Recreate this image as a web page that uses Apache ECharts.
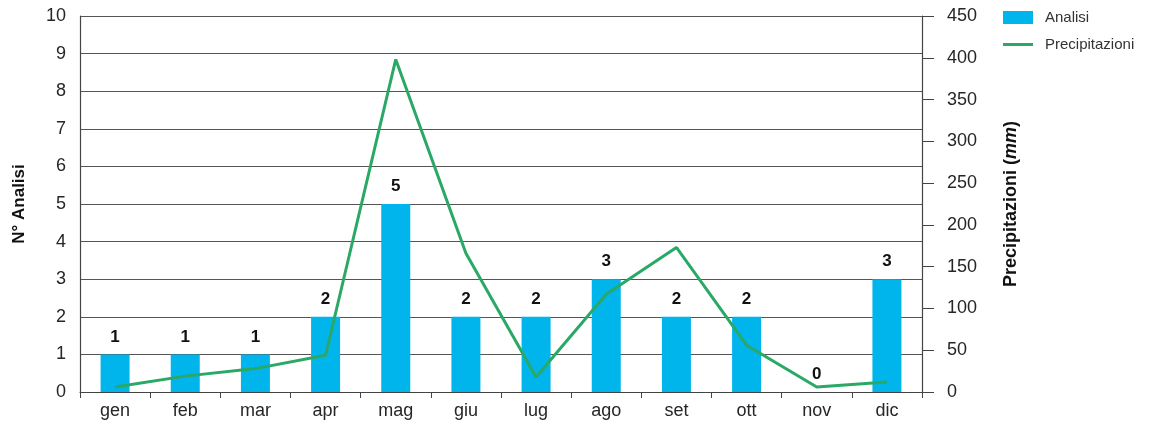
<!DOCTYPE html>
<html>
<head>
<meta charset="utf-8">
<script src="https://cdn.jsdelivr.net/npm/echarts@6/dist/echarts.min.js"></script>
<style>
  html, body { margin: 0; padding: 0; background: #fff; }
  #chart { width: 1152px; height: 427px; }
</style>
</head>
<body>
<div id="chart"></div>
<script>
// Monthly categories
const months = ['gen', 'feb', 'mar', 'apr', 'mag', 'giu', 'lug', 'ago', 'set', 'ott', 'nov', 'dic'];
// Number of analyses per month
const analisi = [1, 1, 1, 2, 5, 2, 2, 3, 2, 2, 0, 3];
// Monthly rainfall (mm)
const precipitazioni = [6, 19, 28, 44, 398, 166, 18, 117, 173, 56, 6, 12];

const FONT = 'Liberation Sans, Arial, Helvetica, sans-serif';
const TXT = '#262626';

const chart = echarts.init(document.getElementById('chart'));
chart.setOption({
  animation: false,
  textStyle: { fontFamily: FONT },
  grid: { left: 80, right: 230, top: 16, bottom: 35 },
  legend: {
    orient: 'vertical',
    left: 1003,
    top: 10,
    padding: 0,
    itemWidth: 30,
    itemHeight: 13,
    itemGap: 12,
    textStyle: { fontSize: 15, color: '#333', fontFamily: FONT, padding: [0, 0, 0, 7] },
    data: [
      { name: 'Analisi', icon: 'rect' },
      { name: 'Precipitazioni', icon: 'path://M0,0 L10,0 L10,1 L0,1 Z' }
    ]
  },
  xAxis: {
    type: 'category',
    data: months,
    boundaryGap: true,
    axisLine: { lineStyle: { color: '#444', width: 1.2 } },
    axisTick: { show: true, length: 6, lineStyle: { color: '#444' } },
    axisLabel: { color: TXT, fontSize: 18, margin: 10 }
  },
  yAxis: [
    {
      type: 'value',
      min: 0, max: 10, interval: 1,
      name: 'N° Analisi',
      nameLocation: 'middle',
      nameRotate: 90,
      nameGap: 52,
      nameTextStyle: { fontWeight: 'bold', fontSize: 17, color: '#111' },
      axisLine: { show: true, lineStyle: { color: '#444', width: 1.2 } },
      axisTick: { show: false },
      axisLabel: { color: TXT, fontSize: 18, margin: 14 },
      splitLine: { show: true, lineStyle: { color: '#555', width: 1.2 } }
    },
    {
      type: 'value',
      min: 0, max: 450, interval: 50,
      position: 'right',
      name: '{b|Precipitazioni (}{i|mm}{b|)}',
      nameLocation: 'middle',
      nameRotate: 90,
      nameGap: 80,
      nameTextStyle: {
        rich: {
          b: { fontWeight: 'bold', fontSize: 18, color: '#111', fontFamily: FONT },
          i: { fontWeight: 'bold', fontStyle: 'italic', fontSize: 18, color: '#111', fontFamily: FONT }
        }
      },
      axisLine: { show: true, lineStyle: { color: '#444', width: 1.2 } },
      axisTick: { show: true, inside: false, length: 12, lineStyle: { color: '#444' } },
      axisLabel: { color: TXT, fontSize: 18, margin: 25 },
      splitLine: { show: false }
    }
  ],
  series: [
    {
      name: 'Analisi',
      type: 'bar',
      yAxisIndex: 0,
      data: analisi,
      barWidth: 29,
      itemStyle: { color: '#00b5eb' },
      label: {
        show: true,
        position: 'top',
        distance: 9,
        fontWeight: 'bold',
        fontSize: 17,
        color: '#111'
      },
      z: 2
    },
    {
      name: 'Precipitazioni',
      type: 'line',
      yAxisIndex: 1,
      data: precipitazioni,
      symbol: 'none',
      lineStyle: { color: '#2aa866', width: 3 },
      itemStyle: { color: '#2aa866' },
      z: 3
    }
  ]
});
</script>
</body>
</html>
